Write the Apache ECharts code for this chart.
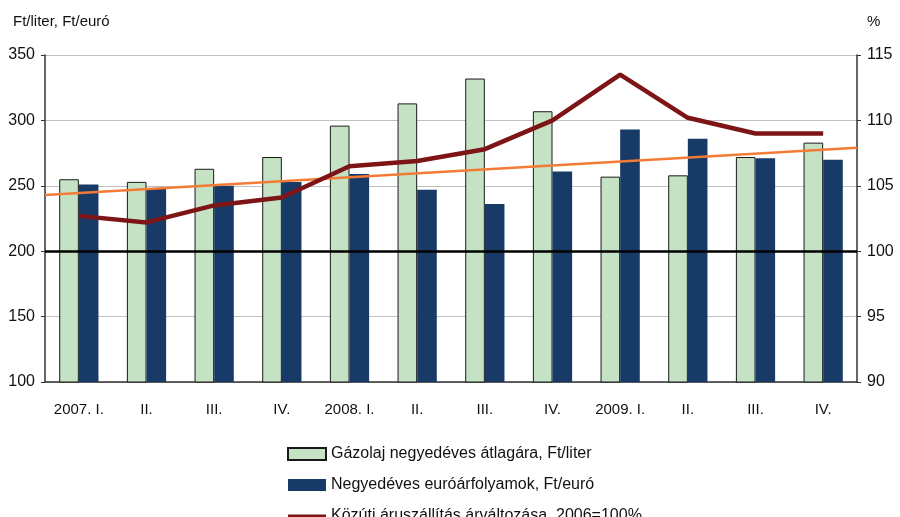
<!DOCTYPE html>
<html>
<head>
<meta charset="utf-8">
<script src="https://cdn.jsdelivr.net/npm/echarts@6/dist/echarts.min.js"></script>
<style>
  html, body { margin: 0; padding: 0; background: #fff; }
  #chart { width: 900px; height: 517px; }
</style>
</head>
<body>
<div id="chart"></div>
<script>
const categories = ['2007. I.', 'II.', 'III.', 'IV.', '2008. I.', 'II.', 'III.', 'IV.', '2009. I.', 'II.', 'III.', 'IV.']
const dieselPrice = [255, 253, 263, 272, 296, 313, 332, 307, 257, 258, 272, 283]
const euroRate = [251, 248, 250, 253, 259, 247, 236, 261, 293, 286, 271, 270]
const freightIndex = [102.7, 102.2, 103.5, 104.1, 106.5, 106.9, 107.8, 110.0, 113.5, 110.2, 109.0, 109.0]
// trend line runs edge to edge of the plot (x in category units 0..12)
const trendX = [0, 12]
const trendY = [104.3, 107.9]

const names = [
  'Gázolaj negyedéves átlagára, Ft/liter',
  'Negyedéves euróárfolyamok, Ft/euró',
  'Közúti áruszállítás árváltozása, 2006=100%'
]

const font = 'Liberation Sans, Arial, sans-serif'
const chart = echarts.init(document.getElementById('chart'))

// thin bar in the middle of a 38x12 box, for the line's legend icon
const lineIcon = 'path://M0,0L0.01,0M0,4.5H38V8.5H0ZM38,12L37.99,12'

const option = {
  animation: false,
  textStyle: { fontFamily: font },
  grid: { left: 45, right: 43, top: 55, bottom: 135 },
  legend: {
    orient: 'vertical',
    left: 282,
    top: 441,
    height: 300,
    itemWidth: 38,
    itemHeight: 12,
    itemGap: 15,
    symbolKeepAspect: false,
    textStyle: { fontSize: 16, color: '#111', fontFamily: font },
    data: [
      { name: names[0], icon: 'rect' },
      { name: names[1], icon: 'rect' },
      { name: names[2], icon: lineIcon, itemStyle: { color: '#7d1416', borderWidth: 0 } }
    ]
  },
  xAxis: [
    {
      type: 'category',
      data: categories,
      axisLine: { lineStyle: { color: '#333', width: 1.5 } },
      axisTick: { show: false },
      axisLabel: { fontSize: 15, color: '#111', margin: 20 }
    },
    {
      type: 'value',
      min: 0,
      max: 12,
      show: false
    }
  ],
  yAxis: [
    {
      type: 'value',
      name: 'Ft/liter, Ft/euró',
      nameLocation: 'end',
      nameGap: 26,
      nameTextStyle: { fontSize: 15, color: '#111', align: 'left', padding: [0, 0, 0, -32] },
      min: 100,
      max: 350,
      interval: 50,
      axisLine: { show: true, lineStyle: { color: '#333', width: 1.5 } },
      axisTick: { show: true, length: 4, lineStyle: { color: '#333' } },
      axisLabel: { fontSize: 16, color: '#111', margin: 10 },
      splitLine: { lineStyle: { color: '#c0c0c0', width: 1 } }
    },
    {
      type: 'value',
      name: '%',
      nameLocation: 'end',
      nameGap: 26,
      nameTextStyle: { fontSize: 15, color: '#111', align: 'left', padding: [0, 0, 0, 10] },
      min: 90,
      max: 115,
      interval: 5,
      axisLine: { show: true, lineStyle: { color: '#333', width: 1.5 } },
      axisTick: { show: true, length: 4, lineStyle: { color: '#333' } },
      axisLabel: { fontSize: 16, color: '#111', margin: 10 },
      splitLine: { show: false }
    }
  ],
  series: [
    {
      name: names[0],
      type: 'bar',
      data: dieselPrice,
      barGap: '0%',
      barCategoryGap: '42%',
      itemStyle: { color: '#c5e3c4', borderColor: '#1a1a1a', borderWidth: 1 },
      markLine: {
        silent: true,
        symbol: 'none',
        label: { show: false },
        lineStyle: { color: '#000', width: 2.5, type: 'solid' },
        data: [{ yAxis: 200 }]
      },
      z: 2
    },
    {
      name: names[1],
      type: 'bar',
      data: euroRate,
      itemStyle: { color: '#173a66' },
      z: 2
    },
    {
      name: 'trend',
      type: 'line',
      xAxisIndex: 1,
      yAxisIndex: 1,
      data: trendX.map((x, i) => [x, trendY[i]]),
      symbol: 'none',
      lineStyle: { color: '#f47b35', width: 2.5 },
      z: 3
    },
    {
      name: names[2],
      type: 'line',
      yAxisIndex: 1,
      data: freightIndex,
      symbol: 'none',
      itemStyle: { color: '#7d1416' },
      lineStyle: { color: '#7d1416', width: 4.5 },
      z: 4
    }
  ]
}

chart.setOption(option)
</script>
</body>
</html>
